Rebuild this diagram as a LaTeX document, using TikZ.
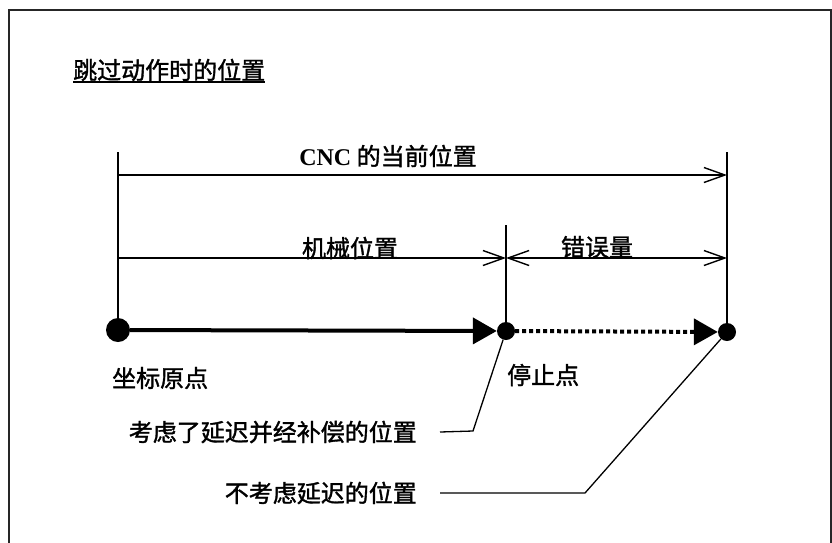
\documentclass[tikz,border=0pt]{standalone}
\usepackage{fontspec}
\setmainfont{Liberation Serif}
\newfontfamily\cjk{Noto Sans CJK SC}[FakeBold=1.4]
\usetikzlibrary{arrows.meta}

\begin{document}
\begin{tikzpicture}[
    x=1pt, y=-1pt,
    every node/.style={font=\cjk\fontsize{24pt}{28pt}\selectfont, inner sep=0pt},
    dot/.style={circle, fill=black, inner sep=0pt, minimum size=18pt},
    dim/.style={line width=1.4pt},
    dimarrow/.style={dim, -{Straight Barb[length=21pt,width=15pt]}},
    track/.style={line width=4pt, -{Triangle[length=24pt,width=26pt]}},
    leader/.style={line width=1.3pt}
]
    \useasboundingbox (0,0) rectangle (832,542);
    % frame
    \draw[line width=1.5pt, black!85] (9,10) rectangle (831,580);
    % title
    \node[anchor=west] (title) at (73,70) {跳过动作时的位置};
    \draw[line width=1.8pt] ([yshift=-1pt]title.south west) -- ([yshift=-1pt]title.south east);
    % points on the axis
    \node[dot, minimum size=24pt] (origin) at (118,330) {};
    \node[dot] (stop) at (506,331) {};
    \node[dot] (endpt) at (727,332) {};
    % extension lines
    \coordinate (lefttop) at (118,152);
    \coordinate (midtop) at (506,225);
    \coordinate (righttop) at (727,152);
    \draw[dim] (lefttop) -- (origin);
    \draw[dim] (midtop) -- (stop);
    \draw[dim] (righttop) -- (endpt);
    % dimension lines
    \coordinate (cnc1) at (118,175);
    \coordinate (cnc2) at (727,175);
    \coordinate (mach1) at (118,258);
    \coordinate (mach2) at (506,258);
    \coordinate (err2) at (727,258);
    \draw[dimarrow] (cnc1) -- (cnc2);
    \draw[dimarrow] (mach1) -- (mach2);
    \draw[dim, {Straight Barb[length=21pt,width=15pt]}-{Straight Barb[length=21pt,width=15pt]}] (mach2) -- (err2);
    \node (cnclbl) at (388,156) {{\rmfamily\bfseries CNC} 的当前位置};
    \node (machlbl) at (350,248) {机械位置};
    \node (errlbl) at (597,247) {错误量};
    % motion
    \draw[track] (origin) -- (stop);
    \draw[track, dash pattern=on 4pt off 3pt] (stop) -- (endpt);
    % point labels
    \node[anchor=west] (originlbl) at (112,378) {坐标原点};
    \node[anchor=west] (stoplbl) at (507,375) {停止点};
    % notes
    \node[anchor=east] (note1) at (417,432) {考虑了延迟并经补偿的位置};
    \node[anchor=east] (note2) at (417,493) {不考虑延迟的位置};
    \coordinate (bend1) at (473,431);
    \coordinate (bend2) at (585,493);
    \draw[leader] ([xshift=23pt]note1.east) -- (bend1) -- (stop);
    \draw[leader] ([xshift=23pt]note2.east) -- (bend2) -- (endpt);
\end{tikzpicture}
\end{document}
